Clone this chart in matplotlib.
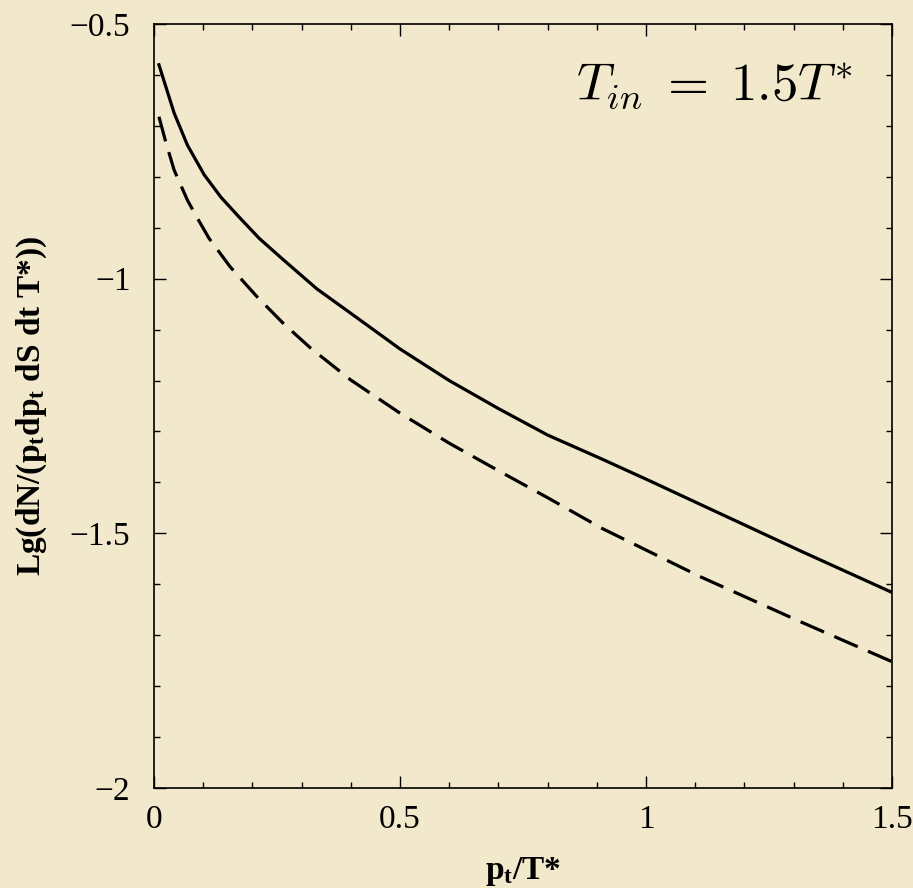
import numpy as np
import matplotlib.pyplot as plt
from matplotlib.ticker import MultipleLocator, FuncFormatter

plt.rcParams['font.family'] = ['Liberation Serif', 'DejaVu Serif']
plt.rcParams['mathtext.fontset'] = 'custom'
plt.rcParams['mathtext.rm'] = 'Liberation Serif'
plt.rcParams['mathtext.it'] = 'Liberation Serif:italic'
plt.rcParams['mathtext.bf'] = 'Liberation Serif:bold'

# values
pt_solid = [0.010, 0.041, 0.068, 0.102, 0.136, 0.170, 0.214, 0.263, 0.331, 0.40,
            0.50, 0.60, 0.70, 0.80, 0.91, 1.01, 1.11, 1.315, 1.50]
lg_solid = [-0.580, -0.675, -0.738, -0.796, -0.840, -0.876, -0.921, -0.963, -1.020, -1.068,
            -1.138, -1.200, -1.255, -1.307, -1.354, -1.398, -1.443, -1.535, -1.616]

pt_dashed = [0.010, 0.024, 0.041, 0.068, 0.088, 0.112, 0.155, 0.209, 0.263, 0.318,
             0.40, 0.50, 0.60, 0.70, 0.80, 0.91, 1.11, 1.315, 1.50]
lg_dashed = [-0.682, -0.732, -0.787, -0.846, -0.881, -0.921, -0.977, -1.035, -1.088, -1.136,
             -1.199, -1.264, -1.323, -1.377, -1.430, -1.490, -1.585, -1.674, -1.752]

xticks = [0, 0.5, 1, 1.5]
yticks = [-2, -1.5, -1, -0.5]

bg = '#f2e8cb'
fig = plt.figure(figsize=(9.13, 8.88), dpi=100, facecolor=bg)
ax = fig.add_axes([154 / 913, 1 - 788 / 888, 738 / 913, 764 / 888])
ax.set_facecolor(bg)

ax.plot(pt_solid, lg_solid, color='black', lw=2.3, solid_joinstyle='round')
ax.plot(pt_dashed, lg_dashed, color='black', lw=2.3, linestyle=(0, (8, 3.5)))

ax.set_xlim(0, 1.5)
ax.set_ylim(-2, -0.5)
ax.set_xticks(xticks)
ax.set_yticks(yticks)
ax.xaxis.set_minor_locator(MultipleLocator(0.1))
ax.yaxis.set_minor_locator(MultipleLocator(0.1))
fmt = FuncFormatter(lambda v, pos: ('%g' % v).replace('-', '\u2212'))
ax.xaxis.set_major_formatter(fmt)
ax.yaxis.set_major_formatter(fmt)
ax.tick_params(which='both', direction='in', top=True, right=True, labelsize=24, width=1)
ax.tick_params(which='major', length=8.5)
ax.tick_params(which='minor', length=4.3)
ax.tick_params(axis='x', pad=12)
ax.tick_params(axis='y', pad=17)
for s in ax.spines.values():
    s.set_linewidth(1.2)

ax.set_xlabel(r'$\mathbf{p_t/T}$*', fontsize=24, fontweight='bold', labelpad=14)
ax.set_ylabel(r'Lg(dN/($\mathbf{p_t}$d$\mathbf{p_t}$ dS dt T*))', fontsize=24,
              fontweight='bold', labelpad=15)

ax.text(0.947, 0.9005, r'$T_{in}\;=\;1.5T^{*}$', transform=ax.transAxes, fontsize=38,
        ha='right', va='baseline', math_fontfamily='cm')

fig.savefig('out.png', dpi=100, facecolor=bg)
